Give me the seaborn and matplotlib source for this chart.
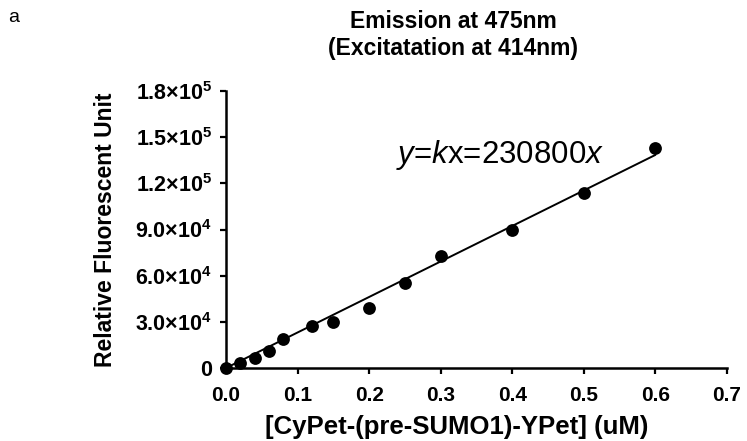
import numpy as np
import pandas as pd
import matplotlib
matplotlib.use("Agg")
import matplotlib.pyplot as plt
import seaborn as sns

# ---- data ----
conc_uM = [0.0, 0.02, 0.04, 0.06, 0.08, 0.12, 0.15, 0.20, 0.25, 0.30, 0.40, 0.50, 0.60]
rfu = [0, 3500, 6800, 11000, 19000, 27000, 30000, 39000, 55500, 73000, 90000, 114000, 143000]
slope_k = 230800
fit_range = [0.0, 0.6]
x_ticks = [0.0, 0.1, 0.2, 0.3, 0.4, 0.5, 0.6, 0.7]
y_ticks = [0, 30000, 60000, 90000, 120000, 150000, 180000]

title_text = "Emission at 475nm\n(Excitatation at 414nm)"
xlabel_text = "[CyPet-(pre-SUMO1)-YPet] (uM)"
ylabel_text = "Relative Fluorescent Unit"
panel_text = "a"

sns.set_theme(style="ticks")
plt.rcParams["font.family"] = ["Liberation Sans", "DejaVu Sans"]
plt.rcParams["mathtext.fontset"] = "custom"
plt.rcParams["mathtext.rm"] = "Liberation Sans"
plt.rcParams["mathtext.it"] = "Liberation Sans:italic"
plt.rcParams["mathtext.bf"] = "Liberation Sans:bold"

df = pd.DataFrame({"x": conc_uM, "y": rfu})
fx = np.array(fit_range)
fit_df = pd.DataFrame({"x": fx, "y": slope_k * fx})

fig = plt.figure(figsize=(7.47, 4.41), dpi=100)
ax = fig.add_axes([226 / 747, 1 - 368 / 441, 501 / 747, 277 / 441])

sns.lineplot(data=fit_df, x="x", y="y", ax=ax, color="black", linewidth=1.4, zorder=2)
sns.scatterplot(data=df, x="x", y="y", ax=ax, color="black", s=85, edgecolor="black",
                linewidth=0, zorder=3, clip_on=False)

ax.set_xlim(0, 0.7)
ax.set_ylim(0, 180000)
ax.set_xticks(x_ticks)
ax.set_xticklabels([f"{v:.1f}" for v in x_ticks], fontweight="bold", fontsize=15)

def ylab(v):
    if v == 0:
        return "0"
    e = int(np.floor(np.log10(v)))
    m = v / 10 ** e
    return f"{m:.1f}×10$^{{\\mathbf{{{e}}}}}$"

ax.set_yticks(y_ticks)
ax.set_yticklabels([ylab(v) for v in y_ticks], fontweight="bold", fontsize=15.5)

for s in ["top", "right"]:
    ax.spines[s].set_visible(False)
for s in ["left", "bottom"]:
    ax.spines[s].set_linewidth(1.8)
    ax.spines[s].set_color("black")
ax.tick_params(axis="both", direction="out", length=4, width=1.6, color="black",
               labelcolor="black")
ax.tick_params(axis="x", pad=9)
ax.tick_params(axis="y", pad=6)

ax.set_xlabel(xlabel_text, fontweight="bold", fontsize=18.5, color="black")
ax.xaxis.set_label_coords((457 - 226) / 501, (368 - 427) / 277)
ax.xaxis.label.set_va("center")
ax.set_ylabel(ylabel_text, fontweight="bold", fontsize=16.5, labelpad=13, color="black")

ax.text(0.238, 133000, r"$\it{y}$=$\it{k}$x=230800$\it{x}$", fontsize=22.5,
        color="black", va="baseline", ha="left")

fig.text(453 / 747, 1 - 35 / 441, title_text, ha="center", va="center",
         fontweight="bold", fontsize=16.5, linespacing=1.2, color="black")
fig.text(8 / 747, 1 - 18 / 441, panel_text, ha="left", va="center", fontsize=14,
         color="black")

fig.savefig("out.png", dpi=100)
